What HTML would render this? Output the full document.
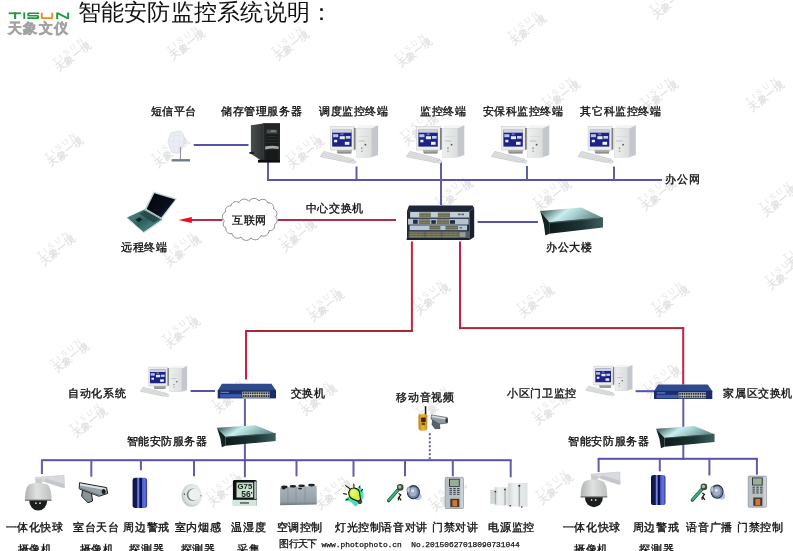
<!DOCTYPE html>
<html><head><meta charset="utf-8">
<style>
html,body{margin:0;padding:0;background:#fff}
#p{position:relative;width:793px;height:551px;overflow:hidden;background:#fff;font-family:"Liberation Sans",sans-serif;filter:blur(0.25px)}
.t{position:absolute;font-size:11px;line-height:12px;letter-spacing:0.6px;color:#111;white-space:nowrap;-webkit-text-stroke:0.35px #111}
svg{position:absolute;left:0;top:0}
</style></head><body><div id="p">
<svg width="793" height="551" viewBox="0 0 793 551">
<defs>
<linearGradient id="gScr" x1="0" y1="0" x2="0" y2="1">
 <stop offset="0" stop-color="#3a44a0"/><stop offset="1" stop-color="#1e2470"/>
</linearGradient>
<linearGradient id="gTow" x1="0" y1="0" x2="1" y2="0">
 <stop offset="0" stop-color="#eef0f0"/><stop offset="1" stop-color="#dcdede"/>
</linearGradient>
<g id="pc">
 <polygon points="8.8,31.4 38.8,39.4 34.2,42.6 5.3,36.6" fill="#e2e4e4" stroke="#b4b8b8" stroke-width="0.6"/>
 <polyline points="8,33.2 36.5,40.6" stroke="#c4c8c8" stroke-width="0.5" fill="none"/>
 <polyline points="7,35 34.5,41.6" stroke="#c4c8c8" stroke-width="0.5" fill="none"/>
 <ellipse cx="38.2" cy="41.8" rx="2.6" ry="1.4" fill="#e6e8e8" stroke="#aab0b0" stroke-width="0.5"/>
 <polygon points="21.5,29.5 37.2,29.5 36.2,33.4 22.6,33.4" fill="#a4a8a8"/>
 <rect x="22.6" y="32" width="13.6" height="1.4" fill="#8a8e8e"/>
 <rect x="15.4" y="6.6" width="24.2" height="23.4" fill="#ededeb" stroke="#c4c4c0" stroke-width="0.5"/>
 <rect x="38.8" y="8" width="1.8" height="21.6" fill="#7c8080"/>
 <rect x="17.2" y="9.8" width="19.4" height="16.8" fill="#1c2286"/>
 <rect x="17.2" y="9.8" width="19.4" height="2.9" fill="#ccd2e0"/>
 <rect x="18.1" y="14.2" width="5.1" height="3" fill="#b8c4ec"/>
 <rect x="24.7" y="16.2" width="5.1" height="3" fill="#e8ecf6"/>
 <rect x="30.8" y="16" width="4.6" height="2.7" fill="#c8d0f0"/>
 <rect x="19.1" y="19.8" width="3.1" height="2.5" fill="#eef0f8"/>
 <rect x="29.8" y="21.8" width="4.6" height="3" fill="#f0f2f8"/>
 <rect x="25.5" y="13.2" width="3" height="2" fill="#6070c0"/>
 <polygon points="41.5,8.4 44,5.3 63.1,5.3 56.5,8.4" fill="#f2f4f4"/>
 <rect x="41.5" y="8.4" width="15" height="28.8" fill="url(#gTow)" stroke="#c8cccc" stroke-width="0.4"/>
 <polygon points="56.5,8.4 63.1,5.3 63.1,35 56.5,37.2" fill="#c4c8cc"/>
 <rect x="43.5" y="20.6" width="6.5" height="0.8" fill="#b0b4b4"/>
 <rect x="43.5" y="16" width="11" height="0.6" fill="#d0d4d4"/>
 <circle cx="50.4" cy="24.7" r="0.9" fill="#505454"/>
 <rect x="46" y="27.5" width="1.6" height="1.4" fill="#909494"/>
 <rect x="46" y="30.6" width="1.6" height="1.2" fill="#a0a4a4"/>
</g>
<linearGradient id="gBox" x1="0" y1="0" x2="1" y2="0.3">
 <stop offset="0" stop-color="#1e3a3a"/><stop offset="0.45" stop-color="#c8eeee"/><stop offset="0.65" stop-color="#a8d0d0"/><stop offset="1" stop-color="#6a9090"/>
</linearGradient>
<linearGradient id="gBoxF" x1="0" y1="0" x2="1" y2="0">
 <stop offset="0" stop-color="#0e1a1a"/><stop offset="0.6" stop-color="#1e3434"/><stop offset="1" stop-color="#3e5e5e"/>
</linearGradient>
<g id="rbox">
 <!-- local coords for the 办公大楼 box, origin (535,200) -->
 <polygon points="5.2,10.9 46.4,7.6 66.6,17.3 14.2,22.2" fill="url(#gBox)"/>
 <polygon points="14.2,22.2 66.6,17.3 68,17.5 68,27.6 14.2,33.8" fill="url(#gBoxF)"/>
 <polygon points="5.2,10.9 14.2,22.2 14.2,33.8 10.4,35.6 8.8,24" fill="#142222"/>
 <polygon points="14.2,22.2 66.6,17.3 66.8,18.4 14.4,23.4" fill="#486a6a" opacity="0.7"/>
</g>

<linearGradient id="gSrvS" x1="0" y1="0" x2="1" y2="0">
 <stop offset="0" stop-color="#4a4e4e"/><stop offset="1" stop-color="#2e3232"/>
</linearGradient>
<g id="srv">
 <polygon points="10.9,7.2 23.1,5.6 23.1,44 12,36.4 10.9,35.8" fill="url(#gSrvS)"/>
 <polygon points="9.4,34 13.8,34.2 13.8,36 9.4,35.8" fill="#1a1a1a"/>
 <rect x="23.1" y="5" width="16.9" height="37.8" fill="#242626"/>
 <rect x="23.1" y="5" width="16.9" height="1" fill="#3c4040"/>
 <rect x="26.8" y="11.6" width="10.4" height="3.8" fill="#4e5252"/>
 <rect x="31" y="12.4" width="4.6" height="1.4" fill="#8a8e8e"/>
 <rect x="26" y="16.4" width="12" height="11.4" fill="#1a1c1c"/>
 <rect x="26.6" y="18" width="10.8" height="0.5" fill="#3a3e3e"/>
 <rect x="26.6" y="21" width="10.8" height="0.5" fill="#3a3e3e"/>
 <rect x="26.6" y="24" width="10.8" height="0.5" fill="#3a3e3e"/>
 <path d="M25.2,28.6 Q31.5,27.2 38.6,28.4 L38.6,31 Q31.5,30 25.2,31.4 Z" fill="#a8acac"/>
 <rect x="25.5" y="32" width="12.8" height="9.6" fill="#181a1a"/>
 <rect x="18" y="41.8" width="22" height="2.8" fill="#0e0e0e"/>
</g>
<g id="dish">
 <path d="M11.2,10.8 Q16,9 21.2,9.2 Q23.6,11.5 24,16 Q24.2,20.5 23.2,24 Q21.5,28.8 18.4,31.2 Q15,31.6 12,30.4 Q9,25.5 8,20 Q8.4,16.5 9.6,14.4 Q10,12 11.2,10.8 Z" fill="#eceef6" stroke="#cfd3e4" stroke-width="0.6"/>
 <path d="M10.5,14.5 Q17,12.6 23.6,14 M8.6,19.5 Q16,18 24,19.6 M10,25 Q16,24 23,24.6 M14.5,10 Q12.5,20 14.5,31 M19,9.4 Q19.5,20 18.2,31" stroke="#d8dcea" stroke-width="0.5" fill="none"/>
 <rect x="19.9" y="25" width="1.1" height="12.5" fill="#8a9aaa"/>
 <rect x="11.6" y="37.1" width="18.4" height="2.4" fill="#6c7c8c"/>
</g>
<linearGradient id="gLapB" x1="0" y1="0" x2="1" y2="1">
 <stop offset="0" stop-color="#5a9090"/><stop offset="0.5" stop-color="#2e6060"/><stop offset="1" stop-color="#6aa0a0"/>
</linearGradient>
<linearGradient id="gLapS" x1="0" y1="0" x2="1" y2="1">
 <stop offset="0" stop-color="#040508"/><stop offset="0.6" stop-color="#0a0e1c"/><stop offset="1" stop-color="#22305a"/>
</linearGradient>
<g id="laptop">
 <polygon points="33.5,5.6 57,12.6 41.8,33 24.6,23.2" fill="#c4d4d4"/>
 <polygon points="34.3,7.2 55.2,13.4 41.2,31.4 26.6,23" fill="url(#gLapS)"/>
 <polygon points="7,31.6 24.8,23.2 42.4,33.2 23.6,46.2" fill="url(#gLapB)"/>
 <polygon points="7,31.6 23.6,46.2 42.4,33.2 42.8,34.4 23.8,47.2 6.8,32.4" fill="#c8e0e0"/>
 <polygon points="19.5,27.8 25.2,24.6 40,33 33.6,36.8" fill="#244444" opacity="0.85"/>
 <polygon points="15.4,33.4 19.6,31.2 22.6,33.6 18.4,36.2" fill="#142424"/>
 <polygon points="24.8,23.2 42.4,33.2 41.8,33.8 24.2,24" fill="#a8c8c8"/>
</g>

<g id="cloud"><path d="M9.5,26 A5.25,5.25 0 0 1 10.5,17 A4.72,4.72 0 0 1 16,11 A5.06,5.06 0 0 1 24,7.5 A5.83,5.83 0 0 1 34,6.5 A5.81,5.81 0 0 1 44,6 A5.35,5.35 0 0 1 53,8 A4.72,4.72 0 0 1 58.5,14 A4.78,4.78 0 0 1 60.5,22 A4.39,4.39 0 0 1 59.5,29.5 A4.72,4.72 0 0 1 54,35.5 A5.47,5.47 0 0 1 46,40.5 A5.98,5.98 0 0 1 36,43 A5.83,5.83 0 0 1 26,42 A5.60,5.60 0 0 1 17,38.5 A4.72,4.72 0 0 1 11,33 A4.15,4.15 0 0 1 9.5,26 Z" fill="#fff" stroke="#7c8686" stroke-width="0.9"/></g>

<pattern id="pPort" x="0" y="0" width="1.3" height="2.3" patternUnits="userSpaceOnUse">
 <rect width="1.3" height="2.3" fill="#8c8c6c"/><rect x="0.2" y="0.3" width="0.8" height="1.4" fill="#4a4a36"/>
</pattern>
<g id="cswitch">
 <polygon points="9,5.5 72.6,5.5 74.2,8 69.6,11.1 7,11.1" fill="#1e2638"/>
 <polygon points="69.6,11.1 74.2,8 74.2,37 69.6,39.9" fill="#182030"/>
 <rect x="7" y="11.1" width="62.6" height="28.6" fill="#1c2840"/>
 <rect x="10.1" y="12" width="59" height="5.6" fill="#c4ccd4"/>
 <rect x="19.2" y="12.6" width="11.6" height="4.6" fill="url(#pPort)"/>
 <rect x="37.8" y="12.6" width="12.2" height="4.6" fill="url(#pPort)"/>
 <rect x="58" y="13.6" width="2.6" height="1.6" fill="#5a6068"/><rect x="61.4" y="13.6" width="2.6" height="1.6" fill="#5a6068"/>
 <rect x="8" y="18.8" width="60.6" height="5.8" fill="#b6c2ce"/>
 <rect x="13.1" y="19.6" width="4.6" height="4.2" fill="#1c2a48"/>
 <rect x="18.7" y="19.4" width="11.6" height="4.6" fill="url(#pPort)"/>
 <rect x="31.3" y="20.2" width="4.5" height="3.6" fill="#1c2a48"/>
 <rect x="36.8" y="19.4" width="12.6" height="4.6" fill="url(#pPort)"/>
 <rect x="50" y="20.2" width="5" height="3.6" fill="#1c2a48"/>
 <rect x="9.6" y="25.4" width="57.5" height="4.8" fill="#b8c8d4"/>
 <rect x="29.3" y="26" width="11.1" height="3.8" fill="url(#pPort)"/>
 <rect x="45.4" y="26" width="12.6" height="3.8" fill="url(#pPort)"/>
 <rect x="59.5" y="27" width="2.6" height="1.6" fill="#6a7078"/>
 <rect x="8.6" y="31.2" width="60.4" height="6.8" fill="#56605e"/>
 <rect x="9.6" y="31.8" width="14.6" height="5.6" fill="url(#pPort)"/>
 <rect x="25.7" y="31.8" width="15.2" height="5.6" fill="url(#pPort)"/>
 <rect x="42.4" y="31.8" width="16.1" height="5.6" fill="url(#pPort)"/>
 <rect x="59.5" y="32.2" width="6" height="4.8" fill="#9a9e90"/>
 <rect x="6.6" y="38.4" width="63" height="1.5" fill="#141c2c"/>
</g>
<g id="bswitch">
 <polygon points="7.9,5.8 57.4,5.8 62,12.5 3.7,12.5" fill="#2e4a8c"/>
 <rect x="3.7" y="12.5" width="58.3" height="7.9" fill="#1c2c6a"/>
 <rect x="3.7" y="12.3" width="58.3" height="0.8" fill="#122050"/>
 <rect x="6.2" y="16.2" width="21.3" height="3.4" fill="#3a5ab8"/>
 <rect x="6.6" y="13.8" width="8.4" height="1.1" fill="#6a88c8"/>
 <rect x="28.3" y="13.7" width="27.4" height="5.9" fill="#c8ccbe"/>
 <g fill="#2a3240">
 <rect x="28.90" y="14.3" width="1.6" height="1.9"/><rect x="28.90" y="17.1" width="1.6" height="1.9"/><rect x="31.17" y="14.3" width="1.6" height="1.9"/><rect x="31.17" y="17.1" width="1.6" height="1.9"/><rect x="33.44" y="14.3" width="1.6" height="1.9"/><rect x="33.44" y="17.1" width="1.6" height="1.9"/><rect x="35.71" y="14.3" width="1.6" height="1.9"/><rect x="35.71" y="17.1" width="1.6" height="1.9"/><rect x="37.98" y="14.3" width="1.6" height="1.9"/><rect x="37.98" y="17.1" width="1.6" height="1.9"/><rect x="40.25" y="14.3" width="1.6" height="1.9"/><rect x="40.25" y="17.1" width="1.6" height="1.9"/><rect x="42.52" y="14.3" width="1.6" height="1.9"/><rect x="42.52" y="17.1" width="1.6" height="1.9"/><rect x="44.79" y="14.3" width="1.6" height="1.9"/><rect x="44.79" y="17.1" width="1.6" height="1.9"/><rect x="47.06" y="14.3" width="1.6" height="1.9"/><rect x="47.06" y="17.1" width="1.6" height="1.9"/><rect x="49.33" y="14.3" width="1.6" height="1.9"/><rect x="49.33" y="17.1" width="1.6" height="1.9"/><rect x="51.60" y="14.3" width="1.6" height="1.9"/><rect x="51.60" y="17.1" width="1.6" height="1.9"/><rect x="53.87" y="14.3" width="1.6" height="1.9"/><rect x="53.87" y="17.1" width="1.6" height="1.9"/>
 </g>
</g>
<linearGradient id="gWalk" x1="0" y1="0" x2="1" y2="0">
 <stop offset="0" stop-color="#c08018"/><stop offset="0.5" stop-color="#eab840"/><stop offset="1" stop-color="#c89020"/>
</linearGradient>
<g id="mobile">
 <rect x="10.8" y="2.2" width="1.5" height="9" fill="#141414"/>
 <path d="M5.6,10.3 L12.4,10.3 Q13.4,10.4 13.4,12 L13.2,24.5 Q13,26.7 9.8,26.7 L7.6,26.7 Q4.6,26.6 4.5,24 L4.4,12.5 Q4.4,10.4 5.6,10.3 Z" fill="url(#gWalk)"/>
 <rect x="7.1" y="13.4" width="4.6" height="4.6" rx="0.6" fill="#3a2810"/>
 <rect x="7.6" y="18.6" width="3.4" height="2.6" rx="0.5" fill="#6a4a1a"/>
 <polygon points="18.6,16 25,17.2 26,24.5 21,24.7 18,20.5" fill="#5a646a" stroke="#2a3034" stroke-width="0.6"/>
 <polygon points="17.4,10.9 33.2,13.6 33.6,19 25,20 17,15" fill="#8e9aa2" stroke="#3a4448" stroke-width="0.6"/>
 <polygon points="17.8,11.5 32.8,14.1 32.6,15.8 17.6,13.2" fill="#d0dade"/>
 <ellipse cx="32.6" cy="16.4" rx="1.2" ry="2.4" fill="#2a3034"/>
</g>
<linearGradient id="gDome" x1="0" y1="0" x2="1" y2="0">
 <stop offset="0" stop-color="#b0b4b4"/><stop offset="0.45" stop-color="#e0e2e1"/><stop offset="1" stop-color="#bcc0c0"/>
</linearGradient>
<g id="dome">
 <polygon points="15.1,7.4 44.1,5.3 44.5,17.6 42.5,17.6 23.7,11.4 16.3,11.4" fill="#d8dadd" stroke="#b4b8bc" stroke-width="0.4"/>
 <polygon points="23.7,11.4 42.5,17.6 44.5,17.6 44.4,14 26,8.6" fill="#c4c8cc"/>
 <rect x="15.5" y="9" width="6.5" height="4.9" fill="#c8cccc"/>
 <path d="M5,30.2 C5,23 5.8,16.5 9.5,14.2 Q18,11.6 27,14.2 C30.7,16.5 31.5,23 31.5,30.2 Z" fill="url(#gDome)"/>
 <rect x="4.9" y="29.6" width="26.6" height="1.2" fill="#6a6e6e"/>
 <path d="M9.2,30.6 A9,10 0 0 0 27.2,30.6 Z" fill="#1c1e1e"/>
 <ellipse cx="15.9" cy="33.2" rx="0.8" ry="0.9" fill="#e8e8e8"/>
 <ellipse cx="20" cy="33.2" rx="0.8" ry="0.9" fill="#e8e8e8"/>
</g>
<g id="boxcam">
 <polygon points="8.7,13.6 17.4,16.6 18.6,25 14,26.7 7.6,20.3" fill="#8a9498" stroke="#1a1c1e" stroke-width="1"/>
 <polygon points="5.5,6.7 32.6,11.6 33.7,17.4 25,20.3 5.2,12.8" fill="#98a2a6" stroke="#222628" stroke-width="1"/>
 <polygon points="6,7.5 32,12.2 31.8,14 6,9.6" fill="#dce4e6"/>
 <polygon points="5.6,11.4 25,18.6 25,20 5.4,12.6" fill="#6a7478"/>
 <ellipse cx="29.6" cy="15.6" rx="2" ry="2.5" fill="#1a1e20"/>
</g>
<linearGradient id="gDet" x1="0" y1="0" x2="1" y2="0">
 <stop offset="0" stop-color="#0c1446"/><stop offset="0.3" stop-color="#141c58"/><stop offset="0.36" stop-color="#8090e4"/><stop offset="0.44" stop-color="#5a68d0"/><stop offset="0.5" stop-color="#0a1040"/><stop offset="0.62" stop-color="#0e1650"/><stop offset="0.66" stop-color="#4a5ad0"/><stop offset="0.85" stop-color="#6474dc"/><stop offset="1" stop-color="#2a3490"/>
</linearGradient>
<g id="det">
 <rect x="7.6" y="5.8" width="14.5" height="30.1" rx="2.6" fill="url(#gDet)"/>
</g>
<radialGradient id="gSmk" cx="0.6" cy="0.45" r="0.6">
 <stop offset="0" stop-color="#f2f4f2"/><stop offset="0.7" stop-color="#e0e4e2"/><stop offset="1" stop-color="#bcc4c4"/>
</radialGradient>
<g id="smoke">
 <ellipse cx="15.7" cy="17.4" rx="10.2" ry="11.3" fill="url(#gSmk)"/>
 <circle cx="16.9" cy="16.8" r="6.2" fill="#7a8484"/>
 <circle cx="18.2" cy="16.6" r="5.8" fill="#eef2ee"/>
 <circle cx="8.4" cy="16.3" r="0.7" fill="#303838"/>
 <circle cx="25" cy="17.7" r="0.8" fill="#8a9090"/>
</g>
<linearGradient id="gLcd" x1="0" y1="0" x2="1" y2="1">
 <stop offset="0" stop-color="#b4d4bc"/><stop offset="1" stop-color="#dcece0"/>
</linearGradient>
<g id="thermo">
 <rect x="4.9" y="5.9" width="23.9" height="26.1" rx="1.5" fill="#0e1212"/>
 <rect x="4.9" y="25.8" width="23.9" height="6.2" fill="#d4e6dc"/>
 <rect x="12" y="28.3" width="9" height="1.3" fill="#3a4a4a"/>
 <rect x="8.5" y="8.5" width="16.7" height="15" fill="url(#gLcd)"/>
 <rect x="26.2" y="7.5" width="2.4" height="17.5" fill="#b8c2c2"/>
 <text x="9.6" y="15.4" font-family="Liberation Sans" font-size="8" font-weight="bold" fill="#10241a" transform="scale(1,1)" textLength="14.6" lengthAdjust="spacingAndGlyphs">G75</text>
 <text x="13.2" y="22.8" font-family="Liberation Sans" font-size="8.6" font-weight="bold" fill="#10241a" textLength="9.4" lengthAdjust="spacingAndGlyphs">56</text>
 <rect x="23" y="18" width="1.2" height="1.6" fill="#10241a"/>
</g>
<linearGradient id="gAC" x1="0" y1="0" x2="0" y2="1">
 <stop offset="0" stop-color="#aab4bc"/><stop offset="0.8" stop-color="#96a0a8"/><stop offset="1" stop-color="#6e787e"/>
</linearGradient>
<g id="ac">
 <polygon points="4.1,9.6 40.7,7.8 40.7,26.6 4.1,27.2" fill="url(#gAC)"/>
 <g stroke="#7e8890" stroke-width="0.6"><line x1="11.9" y1="9.2" x2="11.9" y2="27"/><line x1="20" y1="8.8" x2="20" y2="26.9"/><line x1="29.1" y1="8.3" x2="29.1" y2="26.8"/></g>
 <g fill="#1c2024">
  <ellipse cx="8.4" cy="8.9" rx="3.2" ry="1.3"/><ellipse cx="16.9" cy="8.3" rx="3.2" ry="1.3"/><ellipse cx="25.6" cy="7.8" rx="3.3" ry="1.3"/><ellipse cx="35.5" cy="7.1" rx="3.4" ry="1.3"/>
  <ellipse cx="7.6" cy="10.6" rx="2" ry="0.8"/><ellipse cx="24.1" cy="10.6" rx="2" ry="0.8"/>
 </g>
</g>
<g id="bulb">
 <polygon points="8.2,20.5 13,16.5 19.5,11 22.5,8.8 24.5,12 25.8,19 22.5,24.5 17.4,28.8 13,24 8.4,22.8" fill="#44e2b2"/>
 <g stroke="#1a1a1a" stroke-width="1.1" stroke-linecap="round">
  <line x1="7.6" y1="7.6" x2="12" y2="10.8"/><line x1="15.8" y1="6" x2="16" y2="9.2"/><line x1="5.6" y1="15.6" x2="8.6" y2="16.2"/><line x1="7.8" y1="22" x2="10.2" y2="20.9"/><line x1="22" y1="8" x2="21" y2="9.6"/><line x1="24.6" y1="11.4" x2="23.2" y2="13.2"/>
 </g>
 <path d="M12,11.6 C14.2,9.2 19.6,9.4 21.2,13.4 C22.2,16.4 21.6,19 22.8,21.4 L20.6,23.4 C18.2,22 15.4,22 13,20 C10.4,17.8 10,14.2 12,11.6 Z" fill="#d4f03c" stroke="#141414" stroke-width="1.1"/>
 <ellipse cx="15.5" cy="15" rx="2.6" ry="3" fill="#eefa8a" opacity="0.7"/>
 <circle cx="22" cy="23.8" r="1.8" fill="#50505a" stroke="#141414" stroke-width="0.8"/>
</g>
<g id="mic">
 <path d="M4.6,20.6 L13.8,10.2" stroke="#1e5a40" stroke-width="3.4" stroke-linecap="round"/>
 <path d="M4.9,20.2 L13.8,10.2" stroke="#3cb47e" stroke-width="2" stroke-linecap="round"/>
 <circle cx="16.2" cy="7.4" r="3.3" fill="#3a4a38"/>
 <circle cx="15.8" cy="7" r="1.7" fill="#a8c0a8"/>
 <path d="M14.6,13.4 L16.8,14.8 L15,17 L17,20.4 M14.2,17.4 L14.6,20.4" stroke="#141414" stroke-width="1.2" fill="none"/>
 <ellipse cx="33.8" cy="16.6" rx="3.8" ry="3.4" fill="#a4acf0" opacity="0.8"/>
 <ellipse cx="29.4" cy="12.2" rx="6" ry="6.6" fill="#7484a6" stroke="#283048" stroke-width="1.1"/>
 <ellipse cx="29" cy="11.8" rx="3.8" ry="4.4" fill="#a4b0c8"/>
 <circle cx="28.6" cy="10.8" r="1.5" fill="#e0e6f0"/>
 <ellipse cx="24.6" cy="10" rx="1.7" ry="3" fill="#b8c2d4" stroke="#50607a" stroke-width="0.5"/>
</g>
<g id="door">
 <rect x="5.2" y="3.4" width="18.2" height="31.1" rx="1" fill="#b8c0c4" stroke="#7c848a" stroke-width="0.6"/>
 <rect x="20.6" y="4" width="2.4" height="30" fill="#cdd2d6"/>
 <rect x="9" y="4.8" width="10.7" height="8" fill="#2c3434"/>
 <rect x="10" y="5.6" width="8.8" height="6.4" fill="#98ae98"/>
 <g fill="#3e464e">
 <rect x="9.5" y="14.0" width="2.4" height="1.1"/><rect x="9.5" y="15.9" width="2.4" height="1.1"/><rect x="9.5" y="17.8" width="2.4" height="1.1"/><rect x="9.5" y="19.7" width="2.4" height="1.1"/><rect x="13.3" y="14.0" width="2.4" height="1.1"/><rect x="13.3" y="15.9" width="2.4" height="1.1"/><rect x="13.3" y="17.8" width="2.4" height="1.1"/><rect x="13.3" y="19.7" width="2.4" height="1.1"/><rect x="17.1" y="14.0" width="2.4" height="1.1"/><rect x="17.1" y="15.9" width="2.4" height="1.1"/><rect x="17.1" y="17.8" width="2.4" height="1.1"/><rect x="17.1" y="19.7" width="2.4" height="1.1"/>
 </g>
 <rect x="10.3" y="24.8" width="9" height="8.3" fill="#3a3a3a"/>
 <rect x="12.4" y="26.2" width="4.8" height="6.2" fill="#e07424"/>
</g>
<linearGradient id="gUps" x1="0" y1="0" x2="1" y2="0">
 <stop offset="0" stop-color="#cfd4d4"/><stop offset="0.3" stop-color="#eef0f0"/><stop offset="1" stop-color="#dde2e2"/>
</linearGradient>
<g id="ups">
 <rect x="6.2" y="13.7" width="7.5" height="14.1" fill="#d2d8d8"/>
 <rect x="10.5" y="11.1" width="14" height="18.3" fill="url(#gUps)"/>
 <rect x="24.2" y="6.9" width="19.3" height="23.8" fill="url(#gUps)"/>
 <rect x="10.8" y="15.4" width="1.3" height="12.4" fill="#a8aeae"/>
 <rect x="20.4" y="13.1" width="1.3" height="16.3" fill="#a8aeae"/>
 <rect x="34.6" y="9.5" width="1.5" height="21" fill="#a4aaaa"/>
 <circle cx="11.4" cy="15.6" r="0.9" fill="#303434"/>
 <circle cx="21" cy="13.4" r="0.9" fill="#303434"/>
 <circle cx="35.3" cy="9.8" r="1.1" fill="#303434"/>
 <circle cx="26.3" cy="29.8" r="0.8" fill="#303434"/>
 <circle cx="37.8" cy="31" r="0.8" fill="#303434"/>
</g>
</defs>
<g font-family="Liberation Sans"><g transform="translate(53.4,62.5) rotate(-39)"><text x="0" y="2.9" font-size="8" letter-spacing="3.2" fill="#e5e5e5">TISUN</text><text x="-1.6" y="11.4" font-size="10" letter-spacing="0.5" fill="#e3e3e3" font-weight="bold">天象一境</text></g><g transform="translate(167.5,50.5) rotate(-39)"><text x="0" y="2.9" font-size="8" letter-spacing="3.2" fill="#e5e5e5">TISUN</text><text x="-1.6" y="11.4" font-size="10" letter-spacing="0.5" fill="#e3e3e3" font-weight="bold">天象一境</text></g><g transform="translate(272.0,51.5) rotate(-39)"><text x="0" y="2.9" font-size="8" letter-spacing="3.2" fill="#e5e5e5">TISUN</text><text x="-1.6" y="11.4" font-size="10" letter-spacing="0.5" fill="#e3e3e3" font-weight="bold">天象一境</text></g><g transform="translate(394.8,58.6) rotate(-39)"><text x="0" y="2.9" font-size="8" letter-spacing="3.2" fill="#e5e5e5">TISUN</text><text x="-1.6" y="11.4" font-size="10" letter-spacing="0.5" fill="#e3e3e3" font-weight="bold">天象一境</text></g><g transform="translate(508.1,35.9) rotate(-39)"><text x="0" y="2.9" font-size="8" letter-spacing="3.2" fill="#e5e5e5">TISUN</text><text x="-1.6" y="11.4" font-size="10" letter-spacing="0.5" fill="#e3e3e3" font-weight="bold">天象一境</text></g><g transform="translate(650.0,9.5) rotate(-39)"><text x="0" y="2.9" font-size="8" letter-spacing="3.2" fill="#e5e5e5">TISUN</text><text x="-1.6" y="11.4" font-size="10" letter-spacing="0.5" fill="#e3e3e3" font-weight="bold">天象一境</text></g><g transform="translate(542.2,102.2) rotate(-39)"><text x="0" y="2.9" font-size="8" letter-spacing="3.2" fill="#e5e5e5">TISUN</text><text x="-1.6" y="11.4" font-size="10" letter-spacing="0.5" fill="#e3e3e3" font-weight="bold">天象一境</text></g><g transform="translate(640.6,102.2) rotate(-39)"><text x="0" y="2.9" font-size="8" letter-spacing="3.2" fill="#e5e5e5">TISUN</text><text x="-1.6" y="11.4" font-size="10" letter-spacing="0.5" fill="#e3e3e3" font-weight="bold">天象一境</text></g><g transform="translate(746.5,102.2) rotate(-39)"><text x="0" y="2.9" font-size="8" letter-spacing="3.2" fill="#e5e5e5">TISUN</text><text x="-1.6" y="11.4" font-size="10" letter-spacing="0.5" fill="#e3e3e3" font-weight="bold">天象一境</text></g><g transform="translate(45.5,157.5) rotate(-39)"><text x="0" y="2.9" font-size="8" letter-spacing="3.2" fill="#e5e5e5">TISUN</text><text x="-1.6" y="11.4" font-size="10" letter-spacing="0.5" fill="#e3e3e3" font-weight="bold">天象一境</text></g><g transform="translate(152.0,158.0) rotate(-39)"><text x="0" y="2.9" font-size="8" letter-spacing="3.2" fill="#e5e5e5">TISUN</text><text x="-1.6" y="11.4" font-size="10" letter-spacing="0.5" fill="#e3e3e3" font-weight="bold">天象一境</text></g><g transform="translate(286.5,159.0) rotate(-39)"><text x="0" y="2.9" font-size="8" letter-spacing="3.2" fill="#e5e5e5">TISUN</text><text x="-1.6" y="11.4" font-size="10" letter-spacing="0.5" fill="#e3e3e3" font-weight="bold">天象一境</text></g><g transform="translate(400.6,136.0) rotate(-39)"><text x="0" y="2.9" font-size="8" letter-spacing="3.2" fill="#e5e5e5">TISUN</text><text x="-1.6" y="11.4" font-size="10" letter-spacing="0.5" fill="#e3e3e3" font-weight="bold">天象一境</text></g><g transform="translate(38.0,256.0) rotate(-39)"><text x="0" y="2.9" font-size="8" letter-spacing="3.2" fill="#e5e5e5">TISUN</text><text x="-1.6" y="11.4" font-size="10" letter-spacing="0.5" fill="#e3e3e3" font-weight="bold">天象一境</text></g><g transform="translate(163.5,257.0) rotate(-39)"><text x="0" y="2.9" font-size="8" letter-spacing="3.2" fill="#e5e5e5">TISUN</text><text x="-1.6" y="11.4" font-size="10" letter-spacing="0.5" fill="#e3e3e3" font-weight="bold">天象一境</text></g><g transform="translate(279.0,242.0) rotate(-39)"><text x="0" y="2.9" font-size="8" letter-spacing="3.2" fill="#e5e5e5">TISUN</text><text x="-1.6" y="11.4" font-size="10" letter-spacing="0.5" fill="#e3e3e3" font-weight="bold">天象一境</text></g><g transform="translate(435.4,201.3) rotate(-39)"><text x="0" y="2.9" font-size="8" letter-spacing="3.2" fill="#e5e5e5">TISUN</text><text x="-1.6" y="11.4" font-size="10" letter-spacing="0.5" fill="#e3e3e3" font-weight="bold">天象一境</text></g><g transform="translate(533.3,202.2) rotate(-39)"><text x="0" y="2.9" font-size="8" letter-spacing="3.2" fill="#e5e5e5">TISUN</text><text x="-1.6" y="11.4" font-size="10" letter-spacing="0.5" fill="#e3e3e3" font-weight="bold">天象一境</text></g><g transform="translate(638.7,201.3) rotate(-39)"><text x="0" y="2.9" font-size="8" letter-spacing="3.2" fill="#e5e5e5">TISUN</text><text x="-1.6" y="11.4" font-size="10" letter-spacing="0.5" fill="#e3e3e3" font-weight="bold">天象一境</text></g><g transform="translate(759.7,207.0) rotate(-39)"><text x="0" y="2.9" font-size="8" letter-spacing="3.2" fill="#e5e5e5">TISUN</text><text x="-1.6" y="11.4" font-size="10" letter-spacing="0.5" fill="#e3e3e3" font-weight="bold">天象一境</text></g><g transform="translate(51.1,363.5) rotate(-39)"><text x="0" y="2.9" font-size="8" letter-spacing="3.2" fill="#e5e5e5">TISUN</text><text x="-1.6" y="11.4" font-size="10" letter-spacing="0.5" fill="#e3e3e3" font-weight="bold">天象一境</text></g><g transform="translate(162.7,338.9) rotate(-39)"><text x="0" y="2.9" font-size="8" letter-spacing="3.2" fill="#e5e5e5">TISUN</text><text x="-1.6" y="11.4" font-size="10" letter-spacing="0.5" fill="#e3e3e3" font-weight="bold">天象一境</text></g><g transform="translate(211.9,404.0) rotate(-39)"><text x="0" y="2.9" font-size="8" letter-spacing="3.2" fill="#e5e5e5">TISUN</text><text x="-1.6" y="11.4" font-size="10" letter-spacing="0.5" fill="#e3e3e3" font-weight="bold">天象一境</text></g><g transform="translate(306.8,312.4) rotate(-39)"><text x="0" y="2.9" font-size="8" letter-spacing="3.2" fill="#e5e5e5">TISUN</text><text x="-1.6" y="11.4" font-size="10" letter-spacing="0.5" fill="#e3e3e3" font-weight="bold">天象一境</text></g><g transform="translate(412.7,304.9) rotate(-39)"><text x="0" y="2.9" font-size="8" letter-spacing="3.2" fill="#e5e5e5">TISUN</text><text x="-1.6" y="11.4" font-size="10" letter-spacing="0.5" fill="#e3e3e3" font-weight="bold">天象一境</text></g><g transform="translate(517.0,308.0) rotate(-39)"><text x="0" y="2.9" font-size="8" letter-spacing="3.2" fill="#e5e5e5">TISUN</text><text x="-1.6" y="11.4" font-size="10" letter-spacing="0.5" fill="#e3e3e3" font-weight="bold">天象一境</text></g><g transform="translate(651.9,306.8) rotate(-39)"><text x="0" y="2.9" font-size="8" letter-spacing="3.2" fill="#e5e5e5">TISUN</text><text x="-1.6" y="11.4" font-size="10" letter-spacing="0.5" fill="#e3e3e3" font-weight="bold">天象一境</text></g><g transform="translate(765.4,280.3) rotate(-39)"><text x="0" y="2.9" font-size="8" letter-spacing="3.2" fill="#e5e5e5">TISUN</text><text x="-1.6" y="11.4" font-size="10" letter-spacing="0.5" fill="#e3e3e3" font-weight="bold">天象一境</text></g><g transform="translate(70.0,428.6) rotate(-39)"><text x="0" y="2.9" font-size="8" letter-spacing="3.2" fill="#e5e5e5">TISUN</text><text x="-1.6" y="11.4" font-size="10" letter-spacing="0.5" fill="#e3e3e3" font-weight="bold">天象一境</text></g><g transform="translate(299.2,406.0) rotate(-39)"><text x="0" y="2.9" font-size="8" letter-spacing="3.2" fill="#e5e5e5">TISUN</text><text x="-1.6" y="11.4" font-size="10" letter-spacing="0.5" fill="#e3e3e3" font-weight="bold">天象一境</text></g><g transform="translate(416.5,411.6) rotate(-39)"><text x="0" y="2.9" font-size="8" letter-spacing="3.2" fill="#e5e5e5">TISUN</text><text x="-1.6" y="11.4" font-size="10" letter-spacing="0.5" fill="#e3e3e3" font-weight="bold">天象一境</text></g><g transform="translate(532.5,415.4) rotate(-39)"><text x="0" y="2.9" font-size="8" letter-spacing="3.2" fill="#e5e5e5">TISUN</text><text x="-1.6" y="11.4" font-size="10" letter-spacing="0.5" fill="#e3e3e3" font-weight="bold">天象一境</text></g><g transform="translate(643.5,388.0) rotate(-39)"><text x="0" y="2.9" font-size="8" letter-spacing="3.2" fill="#e5e5e5">TISUN</text><text x="-1.6" y="11.4" font-size="10" letter-spacing="0.5" fill="#e3e3e3" font-weight="bold">天象一境</text></g><g transform="translate(206.2,496.7) rotate(-39)"><text x="0" y="2.9" font-size="8" letter-spacing="3.2" fill="#e5e5e5">TISUN</text><text x="-1.6" y="11.4" font-size="10" letter-spacing="0.5" fill="#e3e3e3" font-weight="bold">天象一境</text></g><g transform="translate(314.3,500.5) rotate(-39)"><text x="0" y="2.9" font-size="8" letter-spacing="3.2" fill="#e5e5e5">TISUN</text><text x="-1.6" y="11.4" font-size="10" letter-spacing="0.5" fill="#e3e3e3" font-weight="bold">天象一境</text></g><g transform="translate(428.6,502.4) rotate(-39)"><text x="0" y="2.9" font-size="8" letter-spacing="3.2" fill="#e5e5e5">TISUN</text><text x="-1.6" y="11.4" font-size="10" letter-spacing="0.5" fill="#e3e3e3" font-weight="bold">天象一境</text></g><g transform="translate(536.0,495.0) rotate(-39)"><text x="0" y="2.9" font-size="8" letter-spacing="3.2" fill="#e5e5e5">TISUN</text><text x="-1.6" y="11.4" font-size="10" letter-spacing="0.5" fill="#e3e3e3" font-weight="bold">天象一境</text></g><g transform="translate(784.0,258.0) rotate(-39)"><text x="0" y="2.9" font-size="8" letter-spacing="3.2" fill="#e5e5e5">TISUN</text><text x="-1.6" y="11.4" font-size="10" letter-spacing="0.5" fill="#e3e3e3" font-weight="bold">天象一境</text></g></g>
<rect x="193.7" y="144.0" width="54.8" height="2" fill="#5652ae"/>
<rect x="267.0" y="179.0" width="395.0" height="2" fill="#5652ae"/>
<rect x="267.0" y="162.0" width="2" height="18.0" fill="#615ea8"/>
<rect x="355.5" y="166.5" width="2" height="13.5" fill="#615ea8"/>
<rect x="440.0" y="161.5" width="2" height="43.5" fill="#615ea8"/>
<rect x="526.0" y="166.0" width="2" height="14.0" fill="#615ea8"/>
<rect x="613.0" y="166.5" width="2" height="13.5" fill="#615ea8"/>
<rect x="477.6" y="221.0" width="60.4" height="2" fill="#5652ae"/>
<rect x="191.0" y="219.0" width="31.4" height="2" fill="#b02e4c"/>
<polygon points="178.7,219.9 191.8,216.9 191.8,222.9" fill="#e8101c"/>
<rect x="277.7" y="219.0" width="118.3" height="2" fill="#b02e4c"/>
<rect x="410.9" y="241.5" width="2" height="90.5" fill="#c8203e"/>
<rect x="245.0" y="330.0" width="167.9" height="2" fill="#a82838"/>
<rect x="245.0" y="330.0" width="2" height="49.5" fill="#c8203e"/>
<rect x="459.0" y="241.5" width="2" height="87.6" fill="#c8203e"/>
<rect x="459.0" y="327.1" width="225.2" height="2" fill="#a82838"/>
<rect x="682.2" y="327.1" width="2" height="57.5" fill="#c8203e"/>
<rect x="190.6" y="390.0" width="24.4" height="2" fill="#5652ae"/>
<rect x="243.9" y="399.0" width="2" height="78.3" fill="#615ea8"/>
<rect x="41.1" y="459.2" width="470.6" height="2" fill="#5652ae"/>
<rect x="40.9" y="460.0" width="2" height="14.0" fill="#615ea8"/>
<rect x="90.3" y="460.0" width="2" height="16.7" fill="#615ea8"/>
<rect x="139.9" y="460.0" width="2" height="10.3" fill="#615ea8"/>
<rect x="193.0" y="460.0" width="2" height="16.3" fill="#615ea8"/>
<rect x="295.5" y="460.0" width="2" height="16.3" fill="#615ea8"/>
<rect x="352.5" y="460.0" width="2" height="16.7" fill="#615ea8"/>
<rect x="404.0" y="460.0" width="2" height="16.3" fill="#615ea8"/>
<rect x="451.8" y="460.0" width="2" height="16.3" fill="#615ea8"/>
<rect x="509.7" y="460.0" width="2" height="17.3" fill="#615ea8"/>
<line x1="429.8" y1="433.2" x2="429.8" y2="459" stroke="#615ea8" stroke-width="2" stroke-dasharray="2,2"/>
<rect x="635.6" y="390.2" width="19.4" height="2" fill="#5652ae"/>
<rect x="682.3" y="399.0" width="2" height="61.0" fill="#615ea8"/>
<rect x="597.6" y="457.8" width="160.3" height="2" fill="#5652ae"/>
<rect x="597.6" y="458.8" width="2" height="13.3" fill="#615ea8"/>
<rect x="658.8" y="458.8" width="2" height="12.5" fill="#615ea8"/>
<rect x="708.4" y="458.8" width="2" height="16.7" fill="#615ea8"/>
<rect x="755.9" y="458.8" width="2" height="15.9" fill="#615ea8"/>
<use href="#pc" transform="translate(315.00,120.00) scale(1.0000,1.0000)"/>
<use href="#pc" transform="translate(401.20,120.00) scale(1.0000,1.0000)"/>
<use href="#pc" transform="translate(486.20,120.00) scale(1.0000,1.0000)"/>
<use href="#pc" transform="translate(572.70,120.00) scale(1.0000,1.0000)"/>
<use href="#pc" transform="translate(136.00,361.70) scale(0.8100,0.8100)"/>
<use href="#pc" transform="translate(581.40,360.70) scale(0.8100,0.8100)"/>
<use href="#rbox" transform="translate(535.00,200.00) scale(1.0000,1.0000)"/>
<use href="#srv" transform="translate(240.00,118.00) scale(1.0000,1.0000)"/>
<use href="#dish" transform="translate(160.00,122.00) scale(1.0000,1.0000)"/>
<use href="#laptop" transform="translate(120.00,186.00) scale(1.0000,1.0000)"/>
<use href="#rbox" transform="translate(212.10,419.30) scale(0.9350,0.7860)"/>
<use href="#rbox" transform="translate(651.30,420.10) scale(0.9300,0.7900)"/>
<use href="#cloud" transform="translate(215.00,195.00) scale(1.0000,1.0000)"/>
<use href="#cswitch" transform="translate(400.00,200.00) scale(1.0000,1.0000)"/>
<use href="#bswitch" transform="translate(214.00,378.00) scale(1.0000,1.0000)"/>
<use href="#bswitch" transform="translate(650.30,378.60) scale(1.0000,1.0000)"/>
<use href="#mobile" transform="translate(414.00,404.00) scale(1.0000,1.0000)"/>
<use href="#dome" transform="translate(20.00,470.00) scale(1.0000,1.0000)"/>
<use href="#boxcam" transform="translate(74.00,476.00) scale(1.0000,1.0000)"/>
<use href="#det" transform="translate(125.00,472.00) scale(1.0000,1.0000)"/>
<use href="#smoke" transform="translate(176.00,478.00) scale(1.0000,1.0000)"/>
<use href="#thermo" transform="translate(228.00,474.00) scale(1.0000,1.0000)"/>
<use href="#ac" transform="translate(276.00,478.00) scale(1.0000,1.0000)"/>
<use href="#bulb" transform="translate(338.00,478.00) scale(1.0000,1.0000)"/>
<use href="#mic" transform="translate(384.00,480.00) scale(1.0000,1.0000)"/>
<use href="#door" transform="translate(440.00,474.00) scale(1.0000,1.0000)"/>
<use href="#ups" transform="translate(484.00,476.00) scale(1.0000,1.0000)"/>
<use href="#dome" transform="translate(575.70,466.70) scale(1.0000,1.0000)"/>
<use href="#det" transform="translate(643.40,469.20) scale(1.0000,1.0000)"/>
<use href="#mic" transform="translate(687.70,479.50) scale(1.0000,1.0000)"/>
<use href="#door" transform="translate(743.00,472.70) scale(1.0000,1.0000)"/>

<g fill="#1e9a3e">
 <rect x="8.7" y="12.4" width="12.3" height="1.75"/><rect x="14.1" y="12.4" width="2.1" height="6.6"/>
 <rect x="23.3" y="12.4" width="1.9" height="6.6"/>
 <path d="M28.6,12.4 H39.2 V14.1 H29.4 Q29.2,14.1 29.2,14.4 V14.6 Q29.2,14.9 29.5,14.9 H37.6 Q39.2,14.9 39.2,16.6 V17.4 Q39.2,19 37.6,19 H27.2 V17.3 H37 Q37.2,17.3 37.2,17 V16.8 Q37.2,16.5 36.9,16.5 H28.8 Q27.2,16.5 27.2,14.9 V14 Q27.2,12.4 28.6,12.4 Z"/>
 <path d="M56.2,12.5 H58.4 L67.2,17.1 V12.5 H69.1 V19 H67 L58.2,14.4 V19 H56.2 Z"/>
</g>
<path fill="#f08a18" d="M40.8,12.7 H42.7 V16.8 Q42.7,17.3 43.2,17.3 H50.8 Q51.3,17.3 51.3,16.8 V12.7 H53.2 V17.4 Q53.2,19 51.6,19 H42.4 Q40.8,19 40.8,17.4 Z"/>

</svg>
<div style="position:absolute;left:8px;top:20px;font-size:14px;line-height:16px;font-weight:900;color:#a2a2a2;letter-spacing:1.3px;-webkit-text-stroke:0.5px #a2a2a2">天象文仪</div>
<div style="position:absolute;left:77.6px;top:-0.4px;font-size:23px;line-height:24px;letter-spacing:0.25px;color:#111">智能安防监控系统说明：</div>
<div class="t" style="left:150.7px;top:105.3px">短信平台</div>
<div class="t" style="left:221.0px;top:105.0px">储存管理服务器</div>
<div class="t" style="left:319.1px;top:105.3px">调度监控终端</div>
<div class="t" style="left:420.0px;top:105.3px">监控终端</div>
<div class="t" style="left:482.5px;top:105.3px">安保科监控终端</div>
<div class="t" style="left:580.4px;top:105.3px">其它科监控终端</div>
<div class="t" style="left:665.4px;top:173.4px">办公网</div>
<div class="t" style="left:305.9px;top:202.3px">中心交换机</div>
<div class="t" style="left:232.2px;top:213.8px">互联网</div>
<div class="t" style="left:121.3px;top:240.8px">远程终端</div>
<div class="t" style="left:546.0px;top:241.3px">办公大楼</div>
<div class="t" style="left:68.2px;top:386.5px">自动化系统</div>
<div class="t" style="left:290.7px;top:386.5px">交换机</div>
<div class="t" style="left:396.4px;top:391.3px">移动音视频</div>
<div class="t" style="left:507.3px;top:386.8px">小区门卫监控</div>
<div class="t" style="left:723.4px;top:387.2px">家属区交换机</div>
<div class="t" style="left:126.5px;top:434.5px">智能安防服务器</div>
<div class="t" style="left:568.2px;top:434.8px">智能安防服务器</div>
<div class="t" style="left:5.6px;top:521.4px">一体化快球</div>
<div class="t" style="left:73.2px;top:521.4px">室台天台</div>
<div class="t" style="left:123.4px;top:521.4px">周边警戒</div>
<div class="t" style="left:174.9px;top:521.4px">室内烟感</div>
<div class="t" style="left:231.4px;top:521.4px">温湿度</div>
<div class="t" style="left:276.6px;top:521.4px">空调控制</div>
<div class="t" style="left:335.1px;top:521.4px">灯光控制语音对讲</div>
<div class="t" style="left:432.3px;top:521.4px">门禁对讲</div>
<div class="t" style="left:488.4px;top:521.4px">电源监控</div>
<div class="t" style="left:562.9px;top:521.0px">一体化快球</div>
<div class="t" style="left:632.9px;top:521.0px">周边警戒</div>
<div class="t" style="left:686.4px;top:521.0px">语音广播</div>
<div class="t" style="left:737.2px;top:521.0px">门禁控制</div>
<div class="t" style="left:17.9px;top:542.7px">摄像机</div>
<div class="t" style="left:79.9px;top:542.7px">摄像机</div>
<div class="t" style="left:129.4px;top:542.7px">探测器</div>
<div class="t" style="left:180.9px;top:542.7px">探测器</div>
<div class="t" style="left:237.4px;top:542.7px">采集</div>
<div class="t" style="left:574.1px;top:542.5px">摄像机</div>
<div class="t" style="left:639.4px;top:542.5px">探测器</div>
<div style="position:absolute;left:279.3px;top:538.2px;font-size:10px;line-height:11px;letter-spacing:-0.6px;color:#111;white-space:nowrap;-webkit-text-stroke:0.3px #111">图行天下</div>
<div style="position:absolute;left:321.6px;top:538.5px;font-family:'Liberation Mono',monospace;font-size:7.87px;line-height:11px;color:#111;white-space:pre;-webkit-text-stroke:0.25px #111">www.photophoto.cn  No.20150627018090731044</div>
</div></body></html>
